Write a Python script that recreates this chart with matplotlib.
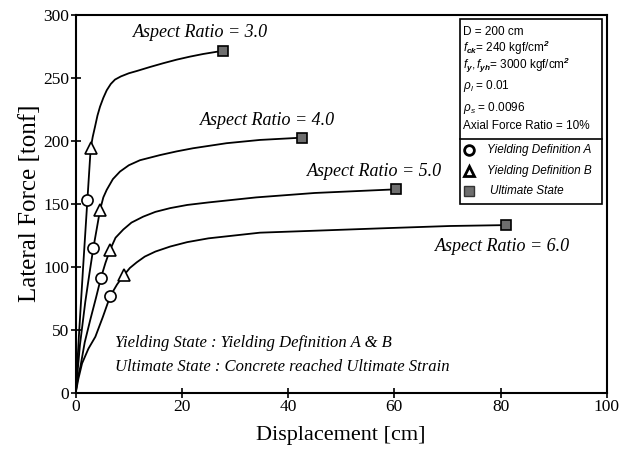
import numpy as np
import matplotlib
matplotlib.use("Agg")
import matplotlib.pyplot as plt
from matplotlib.patches import Rectangle
from matplotlib.lines import Line2D

# Fonts: Times-like for the chart, Arial-like in the info box
plt.rcParams["font.family"] = "Liberation Serif"
plt.rcParams["mathtext.fontset"] = "custom"
plt.rcParams["mathtext.rm"] = "Liberation Sans"
plt.rcParams["mathtext.it"] = "Liberation Sans:italic"
plt.rcParams["mathtext.bf"] = "Liberation Sans:bold:italic"

# Pushover curves (displacement cm, lateral force tonf)
disp_ar3 = [0, 0.6, 1.4, 2.2, 2.82, 3.2, 3.63, 4.1, 4.58, 5.2, 5.84, 6.6, 7.4, 8.5, 10.0,
            11.5, 14.0, 16.5, 19.0, 21.5, 24.0, 26.6, 27.7]
force_ar3 = [0, 45, 100, 153, 194, 203, 211, 220, 227, 234, 240, 245, 248.5, 251, 253.5,
             255.3, 258.5, 261.5, 264.3, 266.7, 268.8, 270.6, 271]

disp_ar4 = [0, 0.8, 1.8, 2.6, 3.31, 4.0, 4.58, 5.2, 5.84, 7.0, 8.34, 10.0, 12.1, 15.9,
            19.0, 22.1, 28.4, 34.7, 42.6]
force_ar4 = [0, 38, 72, 95, 114.6, 131, 145, 155, 161, 169.5, 175.5, 180.5, 184.5, 188.6,
             191.5, 194, 198, 200.6, 202.4]

disp_ar5 = [0, 0.4, 0.9, 1.7, 2.75, 3.8, 4.76, 5.6, 6.46, 7.5, 8.96, 10.5, 12.7, 15.0,
            17.8, 21.0, 25.0, 34.0, 45.0, 60.3]
force_ar5 = [0, 12, 21, 40, 58, 75, 91.3, 103, 113.3, 123, 129.5, 135, 139.7, 143.5,
             146.5, 149, 151, 155, 158.5, 161.4]

disp_ar6 = [0, 0.5, 1.2, 2.4, 3.7, 5.1, 6.5, 7.8, 9.1, 10.2, 11.5, 13.0, 15.0, 17.8,
            21.0, 25.0, 34.7, 45.4, 57.9, 70.5, 81.0]
force_ar6 = [0, 11, 23.3, 35, 44.4, 60, 76.7, 86, 93.4, 99, 103.5, 108, 112, 116,
             119.5, 122.5, 127, 128.6, 130.5, 132.3, 133]

curves = [(disp_ar3, force_ar3), (disp_ar4, force_ar4), (disp_ar5, force_ar5), (disp_ar6, force_ar6)]

# Marked states, aspect ratio 3, 4, 5, 6
yield_a_disp = [2.2, 3.31, 4.76, 6.5]
yield_a_force = [153, 114.6, 91.3, 76.7]
yield_b_disp = [2.82, 4.58, 6.46, 9.1]
yield_b_force = [194, 145, 113.3, 93.4]
ult_disp = [27.7, 42.6, 60.3, 81.0]
ult_force = [271, 202.4, 161.4, 133]

ratio_labels = ["Aspect Ratio = 3.0", "Aspect Ratio = 4.0", "Aspect Ratio = 5.0", "Aspect Ratio = 6.0"]
label_pos = [(23.6, 285.5), (36.2, 216.4), (56.2, 175.4), (80.3, 115.9)]

info_lines = [
    "D = 200 cm",
    r"$f_{\mathbf{ck}}$= 240 kgf/cm$^{\mathbf{2}}$",
    r"$f_{\mathbf{y}}, f_{\mathbf{yh}}$= 3000 kgf/cm$^{\mathbf{2}}$",
    r"$\rho_{l}$ = 0.01",
    r"$\rho_{s}$ = 0.0096",
    "Axial Force Ratio = 10%",
]
info_y = [0.954, 0.912, 0.867, 0.811, 0.753, 0.706]

fig = plt.figure(figsize=(6.32, 4.49), dpi=100)
ax = fig.add_axes([0.1198, 0.1254, 0.8402, 0.8419])

for d, f in curves:
    ax.plot(d, f, color="black", lw=1.3, zorder=2)

ax.plot(yield_a_disp, yield_a_force, "o", ms=8, mfc="white", mec="black", mew=1.2, zorder=3)
ax.plot(yield_b_disp, yield_b_force, "^", ms=9, mfc="white", mec="black", mew=1.2, zorder=3)
ax.plot(ult_disp, ult_force, "s", ms=7, mfc="#6e6e6e", mec="black", mew=1.2, zorder=3)

for txt, (x, y) in zip(ratio_labels, label_pos):
    ax.text(x, y, txt, fontsize=13, style="italic", ha="center", va="center")

ax.text(7.4, 39.4, "Yielding State : Yielding Definition A & B", fontsize=12, style="italic", va="center")
ax.text(7.4, 20.6, "Ultimate State : Concrete reached Ultimate Strain", fontsize=12, style="italic", va="center")

# info / legend box
box_x0, box_x1 = 0.7237, 0.9906
box_top, box_sep, box_bot = 0.988, 0.671, 0.499
ax.add_patch(Rectangle((box_x0, box_bot), box_x1 - box_x0, box_top - box_bot,
                       transform=ax.transAxes, fill=False, ec="black", lw=1.2, zorder=4))
ax.add_line(Line2D([box_x0, box_x1], [box_sep, box_sep], transform=ax.transAxes, color="black", lw=1.2, zorder=4))

for line, y in zip(info_lines, info_y):
    ax.text(0.729, y, line, transform=ax.transAxes, fontsize=8.5, family="Liberation Sans", va="center")

leg_y = [0.642, 0.586, 0.533]
ax.plot([0.741], [leg_y[0]], "o", transform=ax.transAxes, ms=7, mfc="white", mec="black", mew=2, clip_on=False)
ax.plot([0.741], [leg_y[1]], "^", transform=ax.transAxes, ms=7.5, mfc="white", mec="black", mew=2, clip_on=False)
ax.plot([0.741], [leg_y[2]], "s", transform=ax.transAxes, ms=7, mfc="#6e6e6e", mec="#333333", mew=1, clip_on=False)
ax.text(0.775, leg_y[0], "Yielding Definition A", transform=ax.transAxes, fontsize=8.5,
        family="Liberation Sans", style="italic", va="center")
ax.text(0.775, leg_y[1], "Yielding Definition B", transform=ax.transAxes, fontsize=8.5,
        family="Liberation Sans", style="italic", va="center")
ax.text(0.78, leg_y[2], "Ultimate State", transform=ax.transAxes, fontsize=8.5,
        family="Liberation Sans", style="italic", va="center")

ax.set_xlim(0, 100)
ax.set_ylim(0, 300)
ax.set_xticks(np.arange(0, 101, 20))
ax.set_yticks(np.arange(0, 301, 50))
ax.tick_params(direction="inout", length=7, width=1.2, labelsize=12.5, pad=1)
for s in ax.spines.values():
    s.set_linewidth(1.5)

ax.set_xlabel("Displacement [cm]", fontsize=16, labelpad=8)
ax.set_ylabel("Lateral Force [tonf]", fontsize=18, labelpad=2)

fig.savefig("out.png", dpi=100)
